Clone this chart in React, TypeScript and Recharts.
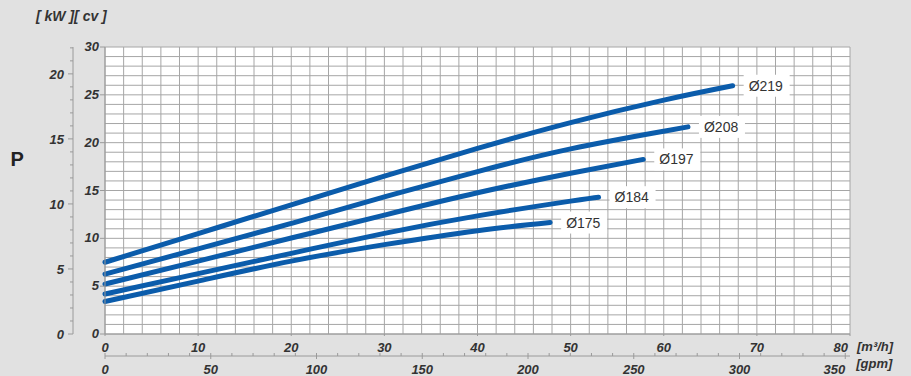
import React from 'react';
import { LineChart, Line, XAxis, YAxis, CartesianGrid } from 'recharts';

// flow Q [m³/h] and power P [cv]
const flow219 = [0, 10, 20, 30, 40, 50, 60, 67.4];
const power219 = [7.5, 10.5, 13.5, 16.5, 19.4, 22.1, 24.45, 25.95];
const flow208 = [0, 10, 20, 30, 40, 50, 60, 62.6];
const power208 = [6.26, 8.9, 11.56, 14.33, 16.98, 19.35, 21.2, 21.65];
const flow197 = [0, 10, 20, 30, 40, 50, 57.8];
const power197 = [5.22, 7.62, 10.03, 12.43, 14.76, 16.81, 18.25];
const flow184 = [0, 10, 20, 30, 40, 50, 53];
const power184 = [4.18, 6.31, 8.43, 10.52, 12.35, 13.89, 14.3];
const flow175 = [0, 10, 20, 30, 40, 47.8];
const power175 = [3.4, 5.53, 7.62, 9.34, 10.8, 11.65];

const curveNames = ['Ø219', 'Ø208', 'Ø197', 'Ø184', 'Ø175'];

const qLabels = [0, 10, 20, 30, 40, 50, 60, 70, 80];
const gpmLabels = [0, 50, 100, 150, 200, 250, 300, 350];
const cvLabels = [0, 5, 10, 15, 20, 25, 30];
const kwLabels = [0, 5, 10, 15, 20];

const Q_MAX = 80;
const CV_MAX = 30;
const GPM_PER_M3H = 4.403;
const KW_PER_CV = 0.7355;

const range = (from: number, to: number, step: number) => {
  const out: number[] = [];
  for (let v = from; v <= to + 1e-9; v += step) out.push(v);
  return out;
};

const toPoints = (qs: number[], ps: number[]) =>
  qs.map((q, i) => ({ q, p: ps[i], gpm: q * GPM_PER_M3H, kw: ps[i] * KW_PER_CV }));

const curves = [
  toPoints(flow219, power219),
  toPoints(flow208, power208),
  toPoints(flow197, power197),
  toPoints(flow184, power184),
  toPoints(flow175, power175),
];

const FONT = '"Liberation Sans", Arial, sans-serif';
const AXIS = '#9a9a9a';
const TEXT = '#333';
const BLUE = '#0b5cab';

const tickText = {
  fontFamily: FONT,
  fontSize: 13,
  fontWeight: 700,
  fontStyle: 'italic' as const,
  fill: TEXT,
};

const CvTick = (props: any) => {
  const { x, y, payload } = props;
  const v = payload.value;
  if (!cvLabels.includes(v)) return <g />;
  return (
    <g>
      <line x1={x - 5} x2={x} y1={y} y2={y} stroke={AXIS} />
      <text x={x - 6} y={y + 4} textAnchor="end" style={tickText}>
        {v}
      </text>
    </g>
  );
};

const KwTick = (props: any) => {
  const { x, y, payload } = props;
  const v = payload.value;
  const major = kwLabels.includes(v);
  return (
    <g>
      <line x1={x - (major ? 5 : 3)} x2={x} y1={y} y2={y} stroke={AXIS} />
      {major && (
        <text x={x - 9} y={y + 5} textAnchor="end" style={tickText}>
          {v}
        </text>
      )}
    </g>
  );
};

const QTick = (props: any) => {
  const { x, y, payload } = props;
  const v = payload.value;
  if (!qLabels.includes(v)) return <g />;
  const last = v === Q_MAX;
  return (
    <g>
      <line x1={x} x2={x} y1={y} y2={y + 2} stroke={AXIS} />
      <text x={last ? x - 2 : x} y={y + 18} textAnchor={last ? 'end' : 'middle'} style={tickText}>
        {v}
      </text>
      {last && (
        <text x={x + 7} y={y + 16.5} style={tickText}>
          [m³/h]
        </text>
      )}
    </g>
  );
};

const GpmTick = (props: any) => {
  const { x, y, payload } = props;
  const v = payload.value;
  const major = gpmLabels.includes(v);
  const last = v === gpmLabels[gpmLabels.length - 1];
  return (
    <g>
      <line x1={x} x2={x} y1={y - 3} y2={major ? y + 3 : y} stroke={AXIS} />
      {major && (
        <text x={x} y={y + 17.5} textAnchor={last ? 'end' : 'middle'} style={tickText}>
          {v}
        </text>
      )}
      {last && (
        <text x={x + 11} y={y + 12} style={tickText}>
          [gpm]
        </text>
      )}
    </g>
  );
};

const endLabel = (name: string, lastP: number) => (props: any) => {
  const x = props.x ?? props.viewBox?.x;
  const y = props.y ?? props.viewBox?.y;
  if (props.value !== lastP) return <g />;
  return (
    <g>
      <rect x={x + 11} y={y - 11} width={46} height={22} fill="#fff" />
      <text x={x + 16} y={y + 5} fontFamily={FONT} fontSize={14} fill={TEXT}>
        {name}
      </text>
    </g>
  );
};

export default function App() {
  return (
    <div
      style={{
        position: 'absolute',
        left: 0,
        top: 0,
        width: 911,
        height: 376,
        background: '#e1e1e1',
        fontFamily: FONT,
      }}
    >
      <LineChart width={911} height={376} margin={{ top: 47, right: 61, bottom: 0, left: 0 }}>
        <CartesianGrid stroke="#a6a6a6" fill="#fff" fillOpacity={1} />
        <XAxis
          dataKey="q"
          type="number"
          domain={[0, Q_MAX]}
          ticks={range(0, Q_MAX, 2)}
          interval={0}
          height={22}
          tickLine={false}
          tickSize={0}
          tickMargin={0}
          axisLine={{ stroke: AXIS }}
          tick={<QTick />}
        />
        <XAxis
          xAxisId="gpm"
          dataKey="gpm"
          type="number"
          domain={[0, Q_MAX * GPM_PER_M3H]}
          allowDataOverflow
          ticks={range(0, 350, 10)}
          interval={0}
          height={20}
          tickLine={false}
          tickSize={0}
          tickMargin={0}
          axisLine={{ stroke: AXIS }}
          tick={<GpmTick />}
        />
        <YAxis
          type="number"
          domain={[0, CV_MAX]}
          ticks={range(0, CV_MAX, 1)}
          interval={0}
          width={32}
          tickLine={false}
          tickSize={0}
          tickMargin={0}
          axisLine={{ stroke: AXIS }}
          tick={<CvTick />}
        />
        <YAxis
          yAxisId="kw"
          type="number"
          domain={[0, CV_MAX * KW_PER_CV]}
          allowDataOverflow
          ticks={range(0, 22, 1)}
          interval={0}
          width={73}
          tickLine={false}
          tickSize={0}
          tickMargin={0}
          axisLine={{ stroke: AXIS }}
          tick={<KwTick />}
        />
        {/* same Ø219 curve in gpm / kW, invisible: it only binds the secondary axes */}
        <Line
          xAxisId="gpm"
          yAxisId="kw"
          data={curves[0]}
          dataKey="kw"
          type="natural"
          stroke="none"
          dot={false}
          activeDot={false}
          isAnimationActive={false}
        />
        {curves.map((data, i) => (
          <Line
            key={curveNames[i]}
            data={data}
            dataKey="p"
            type="natural"
            stroke={BLUE}
            strokeWidth={5}
            strokeLinecap="round"
            dot={false}
            activeDot={false}
            isAnimationActive={false}
            label={endLabel(curveNames[i], data[data.length - 1].p)}
          />
        ))}
      </LineChart>
      <svg
        width={911}
        height={376}
        style={{ position: 'absolute', left: 0, top: 0, pointerEvents: 'none' }}
      >
        <text x={10.5} y={165.5} fontFamily={FONT} fontSize={20} fontWeight={700} fill="#222">
          P
        </text>
        <text x={36} y={21} style={{ ...tickText, fontSize: 14 }}>
          [ kW ][ cv ]
        </text>
      </svg>
    </div>
  );
}
